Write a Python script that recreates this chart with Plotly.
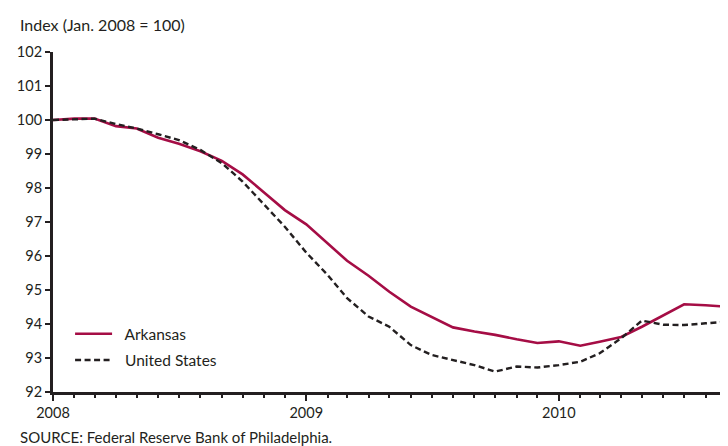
import pandas as pd
import plotly.graph_objects as go

# Monthly index values, Jan 2008 = 100
months = pd.date_range("2008-01-01", periods=34, freq="MS")
arkansas = [100.0, 100.04, 100.04, 99.82, 99.75, 99.48, 99.3, 99.08, 98.8, 98.4,
            97.87, 97.35, 96.93, 96.37, 95.86, 95.42, 94.95, 94.51, 94.22, 93.9,
            93.78, 93.68, 93.55, 93.44, 93.49, 93.36, 93.48, 93.62, 93.92, 94.26,
            94.58, 94.55, 94.51, 94.9]
united_states = [100.0, 100.02, 100.04, 99.88, 99.75, 99.58, 99.41, 99.12, 98.73, 98.19,
                 97.5, 96.86, 96.1, 95.44, 94.76, 94.22, 93.92, 93.38, 93.09, 92.94,
                 92.79, 92.6, 92.75, 92.72, 92.79, 92.89, 93.14, 93.58, 94.1, 93.98,
                 93.97, 94.02, 94.07, 94.33]
year_ticks = ["2008-01-01", "2009-01-01", "2010-01-01"]
year_labels = ["2008", "2009", "2010"]
y_ticks = list(range(92, 103))

INK = "#231f20"
RED = "#a50d45"
FONT = "Lato, 'Open Sans', sans-serif"

fig = go.Figure()
fig.add_trace(go.Scatter(x=months, y=arkansas, name="\u00a0\u00a0Arkansas", mode="lines",
                         line=dict(color=RED, width=2.6), legendgroup="a"))
fig.add_trace(go.Scatter(x=months, y=united_states, name="\u00a0\u00a0United States", mode="lines",
                         line=dict(color=INK, width=2.4, dash="6px,3.5px"), legendgroup="b"))

fig.update_layout(
    width=728, height=446,
    margin=dict(l=45, r=0, t=44, b=62),
    paper_bgcolor="white", plot_bgcolor="white",
    font=dict(family=FONT, size=15, color=INK),
    showlegend=True,
    legend=dict(x=0.025, y=0.22, xanchor="left", yanchor="top",
                bgcolor="rgba(0,0,0,0)", font=dict(size=15.5, color=INK),
                traceorder="grouped", tracegroupgap=3, itemwidth=37),
)
fig.update_xaxes(
    type="date", range=["2008-01-01", "2010-09-14"],
    tickvals=year_ticks, ticktext=year_labels,
    showgrid=False, zeroline=False,
    showline=True, linecolor=INK, linewidth=3,
    ticks="outside", ticklen=6, tickwidth=2, tickcolor=INK,
    minor=dict(dtick="M1", tick0="2008-01-01", ticks="outside", ticklen=3,
               tickwidth=2, tickcolor=INK, showgrid=False),
    tickfont=dict(size=14.5, color=INK),
)
fig.update_yaxes(
    range=[92, 102], tickvals=y_ticks,
    showgrid=False, zeroline=False,
    showline=True, linecolor=INK, linewidth=3,
    ticks="outside", ticklen=5, tickwidth=2, tickcolor=INK,
    tickfont=dict(size=14.5, color=INK),
)

fig.add_annotation(text="Index (Jan. 2008 = 100)", xref="paper", yref="paper",
                   x=-35/683, y=1 + 28/340, xanchor="left", yanchor="middle",
                   showarrow=False, font=dict(size=16, color=INK))
fig.add_annotation(text="SOURCE: Federal Reserve Bank of Philadelphia.", xref="paper", yref="paper",
                   x=-35/683, y=-45/340, xanchor="left", yanchor="middle",
                   showarrow=False, font=dict(size=15, color=INK))

fig.write_html("out.html")
